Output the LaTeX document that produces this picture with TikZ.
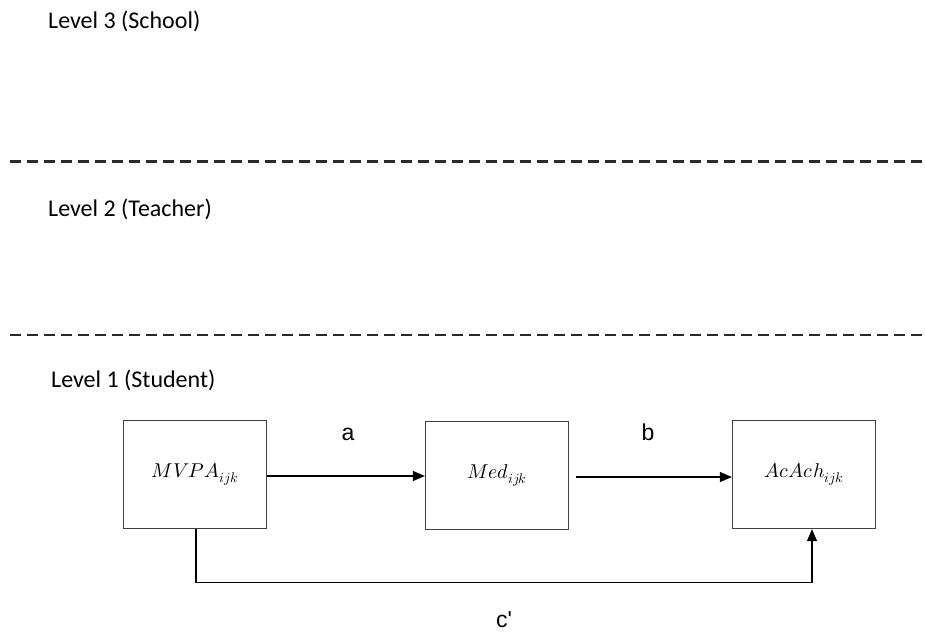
\documentclass[tikz,border=0pt]{standalone}
\usepackage{fontspec}
\usepackage{unicode-math}
\setmainfont{Carlito}
\setmathfont{Latin Modern Math}
\newfontfamily\labfont{Liberation Sans}
\usetikzlibrary{arrows.meta}
\definecolor{boxgray}{HTML}{404040}
\definecolor{dashgray}{HTML}{2a2a2a}
\begin{document}
\begin{tikzpicture}[x=1pt,y=-1pt,
  levelstyle/.style={anchor=base west,inner sep=0pt,font=\fontsize{24}{27}\selectfont},
  varbox/.style={draw=boxgray,line width=1.3pt,minimum width=143pt,minimum height=108pt,inner sep=0pt,font=\fontsize{20}{24}\selectfont},
  pathlbl/.style={anchor=base,inner sep=0pt,font=\labfont\fontsize{23}{26}\selectfont},
  sep/.style={draw=dashgray,line width=2.2pt,dash pattern=on 11pt off 6pt},
  conn/.style={draw=black,line width=1.2pt,-{Triangle[length=12pt,width=10pt]}}]
\useasboundingbox (0,0) rectangle (925,632);
\fill[white] (0,0) rectangle (925,632);
% level labels
\node[levelstyle] (l3) at (48,28) {Level 3 (School)};
\node[levelstyle] (l2) at (48,216) {Level 2 (Teacher)};
\node[levelstyle] (l1) at (51,387) {Level 1 (Student)};
% separators
\coordinate (s1a) at (10,161.5);
\coordinate (s1b) at (925,161.5);
\coordinate (s2a) at (10,335);
\coordinate (s2b) at (925,335);
\draw[sep] (s1a) -- (s1b);
\draw[sep] (s2a) -- (s2b);
% boxes
\node[varbox] (mvpa) at (195,474.5) {$MVPA_{ijk}$};
\node[varbox] (med) at (497,475.5) {$Med_{ijk}$};
\node[varbox] (acach) at (804,474.5) {$AcAch_{ijk}$};
% connectors
\draw[conn] (mvpa.east |- 0,476) -- (med.west |- 0,476);
\draw[conn] ([xshift=7pt]med.east |- 0,477) -- (acach.west |- 0,477);
\draw[conn] ([xshift=1pt]mvpa.south) -- ++(0,53.5) -| ([xshift=8pt]acach.south);
% path labels
\node[pathlbl] (la) at (348,440) {a};
\node[pathlbl] (lb) at (648,440) {b};
\node[pathlbl] (lc) at (504,627) {c'};
\end{tikzpicture}
\end{document}
